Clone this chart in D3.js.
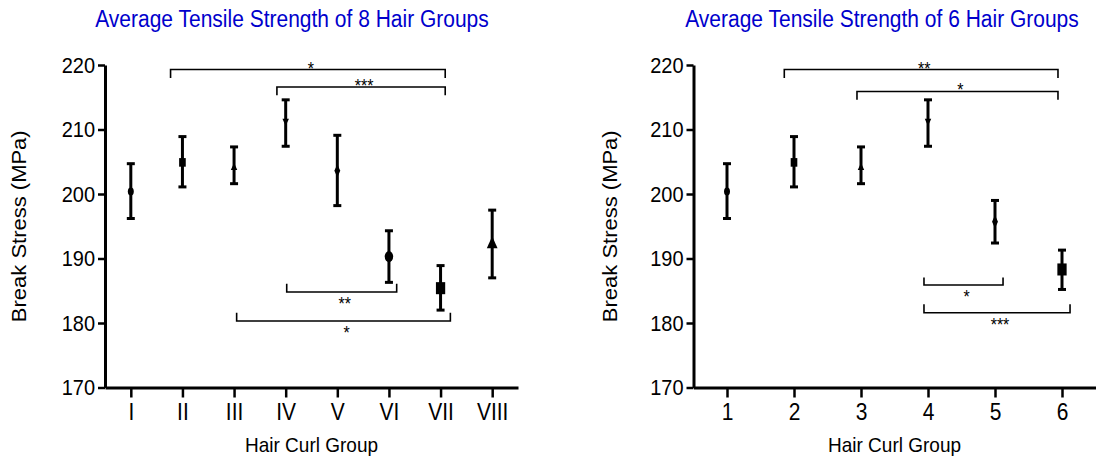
<!DOCTYPE html>
<html>
<head>
<meta charset="utf-8">
<script src="https://cdn.jsdelivr.net/npm/d3@7/dist/d3.min.js"></script>
<style>
  html, body { margin: 0; padding: 0; background: #fff; }
  svg { display: block; }
  text { font-family: "Liberation Sans", Arial, sans-serif; }
</style>
</head>
<body>
<svg id="chart" width="1106" height="461"></svg>
<script>
// ---- Data: eight-group panel ----
const groups8 = ["I", "II", "III", "IV", "V", "VI", "VII", "VIII"];
const mean8  = [200.4, 204.9, 204.1, 211.3, 203.6, 190.3, 185.4, 192.2];
const upper8 = [204.7, 208.9, 207.3, 214.6, 209.1, 194.3, 188.9, 197.5];
const lower8 = [196.2, 201.1, 201.6, 207.4, 198.2, 186.3, 182.0, 187.0];
const shape8 = ["circle", "square", "triangle", "triangleDown", "diamond", "circleBig", "squareBig", "triangleBig"];
// significance brackets: [from, to, line value, tick end value, label]
const sig8 = [
  [1.77, 7.09, 219.3, 218.0, "*"],
  [3.83, 7.09, 216.6, 215.3, "***"],
  [4.02, 6.15, 184.8, 186.1, "**"],
  [3.05, 7.19, 180.3, 181.6, "*"]
];

// ---- Data: six-group panel ----
const groups6 = ["1", "2", "3", "4", "5", "6"];
const mean6  = [200.4, 204.9, 204.1, 211.3, 195.7, 188.3];
const upper6 = [204.7, 208.9, 207.3, 214.6, 199.0, 191.3];
const lower6 = [196.2, 201.1, 201.6, 207.4, 192.4, 185.2];
const shape6 = ["circle", "square", "triangle", "triangleDown", "diamond", "squareBig"];
const sig6 = [
  [1.855, 5.94, 219.3, 218.0, "**"],
  [2.94, 5.94, 215.9, 214.6, "*"],
  [3.94, 5.12, 185.9, 187.05, "*"],
  [3.94, 6.12, 181.6, 182.9, "***"]
];

const yTicks = [170, 180, 190, 200, 210, 220];

const svg = d3.select("#chart");
const STRETCH = 1.1; // glyphs are drawn slightly tall

const symbolFor = {
  circle:       { type: d3.symbolCircle,   size: 28 },
  square:       { type: d3.symbolSquare,   size: 44 },
  triangle:     { type: d3.symbolTriangle, size: 18, rot: 0 },
  triangleDown: { type: d3.symbolTriangle, size: 18, rot: 180 },
  diamond:      { type: d3.symbolDiamond,  size: 30 },
  circleBig:    { type: d3.symbolCircle,   size: 56 },
  squareBig:    { type: d3.symbolSquare,   size: 86 },
  triangleBig:  { type: d3.symbolTriangle, size: 50, rot: 0 }
};

function tallText(g, x, y, str, size, anchor) {
  return g.append("text")
    .attr("transform", `translate(${x},${y}) scale(1,${STRETCH})`)
    .attr("text-anchor", anchor || "middle")
    .attr("font-size", size)
    .text(str);
}

function drawPanel(cfg) {
  const { left, right, title, titleX, labelX, groups, mean, upper, lower, shapes, sig } = cfg;
  const top = 65, bottom = 387.5;

  const x = d3.scaleLinear().domain([0.5, groups.length + 0.5]).range([left, right]);
  const y = d3.scaleLinear().domain([170, 220]).range([bottom, top]);

  const g = svg.append("g");

  // title
  tallText(g, titleX, 27, title, 21).attr("fill", "#0000cc");

  // y axis
  const yAxis = d3.axisLeft(y).tickValues(yTicks).tickSize(7).tickSizeOuter(0).tickPadding(3)
    .tickFormat(d3.format("d"));
  const ya = g.append("g").attr("transform", `translate(${left},0)`).call(yAxis);
  ya.select(".domain").attr("stroke", "#000").attr("stroke-width", 3);
  ya.selectAll(".tick line").attr("stroke", "#000").attr("stroke-width", 2.5);
  ya.selectAll(".tick text").attr("font-size", 20).attr("fill", "#000")
    .attr("font-family", '"Liberation Sans", Arial, sans-serif')
    .attr("transform", `scale(1,${STRETCH})`);

  // x axis
  const xAxis = d3.axisBottom(x).tickValues(d3.range(1, groups.length + 1))
    .tickFormat(d => groups[d - 1]).tickSize(10).tickSizeOuter(0).tickPadding(4.6);
  const xa = g.append("g").attr("transform", `translate(0,${bottom})`).call(xAxis);
  xa.select(".domain").attr("stroke", "#000").attr("stroke-width", 3);
  xa.selectAll(".tick line").attr("stroke", "#000").attr("stroke-width", 2.5);
  xa.selectAll(".tick text").attr("font-size", 21).attr("fill", "#000")
    .attr("font-family", '"Liberation Sans", Arial, sans-serif')
    .attr("transform", `scale(1,${STRETCH})`);

  // axis titles
  g.append("text")
    .attr("transform", `translate(${labelX},${(top + bottom) / 2}) rotate(-90) scale(${STRETCH},1)`)
    .attr("text-anchor", "middle")
    .attr("font-size", 20)
    .text("Break Stress (MPa)");
  tallText(g, (left + right) / 2, 452, "Hair Curl Group", 19);

  // error bars
  const bars = g.append("g").selectAll("g").data(groups.map((_, i) => i)).join("g");
  bars.append("line")
    .attr("x1", i => x(i + 1)).attr("x2", i => x(i + 1))
    .attr("y1", i => y(upper[i])).attr("y2", i => y(lower[i]))
    .attr("stroke", "#000").attr("stroke-width", 3);
  [upper, lower].forEach(arr => {
    bars.append("line")
      .attr("x1", i => x(i + 1) - 4).attr("x2", i => x(i + 1) + 4)
      .attr("y1", i => y(arr[i])).attr("y2", i => y(arr[i]))
      .attr("stroke", "#000").attr("stroke-width", 3);
  });

  // mean markers
  bars.append("path")
    .attr("d", i => d3.symbol().type(symbolFor[shapes[i]].type).size(symbolFor[shapes[i]].size)())
    .attr("transform", i => `translate(${x(i + 1)},${y(mean[i])}) scale(1,1.3) rotate(${symbolFor[shapes[i]].rot || 0})`)
    .attr("fill", "#000");

  // significance brackets
  sig.forEach(([a, b, v, t, lab]) => {
    const x1 = x(a), x2 = x(b), yl = y(v), yt = y(t);
    g.append("path")
      .attr("d", `M${x1},${yt}V${yl}H${x2}V${yt}`)
      .attr("fill", "none").attr("stroke", "#000").attr("stroke-width", 1.6);
    const below = t > v;
    tallText(g, (x1 + x2) / 2 + 3, below ? yl + 18 : yl + 5, lab, 16);
  });
}

drawPanel({
  left: 105, right: 518, title: "Average Tensile Strength of 8 Hair Groups", titleX: 292, labelX: 26,
  groups: groups8, mean: mean8, upper: upper8, lower: lower8, shapes: shape8, sig: sig8
});
drawPanel({
  left: 693.5, right: 1095.5, title: "Average Tensile Strength of 6 Hair Groups", titleX: 882, labelX: 617,
  groups: groups6, mean: mean6, upper: upper6, lower: lower6, shapes: shape6, sig: sig6
});
</script>
</body>
</html>
